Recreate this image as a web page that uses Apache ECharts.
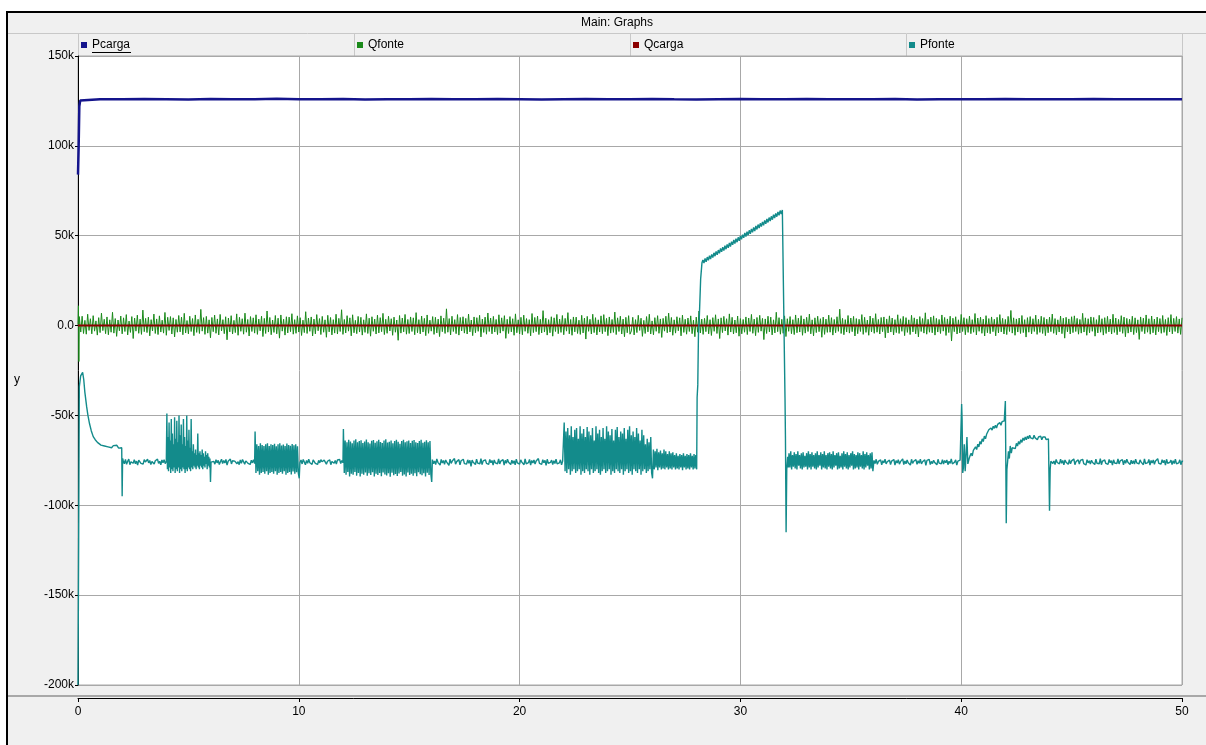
<!DOCTYPE html>
<html><head><meta charset="utf-8">
<script src="https://cdn.jsdelivr.net/npm/echarts@6/dist/echarts.min.js"></script>
<style>html,body{margin:0;padding:0;background:#fff;}#c{width:1206px;height:745px;}</style>
</head><body><div id="c"></div>
<script>
// ---------------- DATA (values in thousands) ----------------
const seriesNames = ['Pcarga', 'Qfonte', 'Qcarga', 'Pfonte'];
const yTickValues = [-200, -150, -100, -50, 0, 50, 100, 150];
const yTickLabels = ['-200k', '-150k', '-100k', '-50k', '0.0', '50k', '100k', '150k'];
const xTickLabels = ['0', '10', '20', '30', '40', '50'];

// Pcarga
const pcargaHead = [[0, 84], [0.03, 100], [0.06, 122], [0.1, 125.2], [0.16, 126.1]];
const pcargaSteady = [126.0,125.9,126.1,126.0,125.8,126.1,125.9,126.0,126.2,125.9,126.0,126.1,125.8,126.0,125.9,126.1,126.0,125.9,126.1,126.0,125.8,126.0,126.1,125.9,126.0,126.1,125.9,125.8,126.0,126.1,126.0,125.9,126.1,126.0,125.9,126.0,126.1,125.8,126.0,126.0,125.9,126.1,126.0,125.9,126.0,126.1,125.9,126.0,125.9,126.0];

// Qfonte
const qfonteHead = [[0, 0.5], [0.02, 11], [0.04, -20], [0.06, 5]];
const qfonteNoise = [
4.1,-3.6,5.2,-4.4,2.9,-4.8,6.3,-2.7,3.8,-4.6,5.5,-3.1,2.6,-5.3,4.4,-3.9,6.9,-2.8,3.5,-4.5,
4.8,-5.1,3.2,-3.7,7.4,-4.2,3.9,-6.0,3.1,-2.9,5.3,-4.6,4.3,-3.3,6.1,-5.2,2.5,-3.8,5.0,-7.2,
4.2,-3.1,5.8,-4.3,3.6,-4.9,8.6,-3.4,4.0,-3.9,4.7,-5.7,3.3,-3.0,6.4,-4.4,3.7,-5.0,5.4,-3.6,
3.0,-4.2,7.3,-5.4,4.6,-2.7,5.0,-4.7,4.3,-6.3,3.4,-3.7,5.6,-3.5,4.7,-5.1,6.8,-4.1,2.8,-4.6,
5.2,-3.3,3.9,-5.6,5.9,-3.8,3.5,-4.4,9.0,-3.1,4.4,-4.9,5.1,-4.2,3.2,-6.8,4.5,-3.4,5.8,-4.3,
3.7,-5.2,6.2,-3.0,3.3,-4.5,4.9,-7.9,4.2,-3.5,5.5,-4.7,2.9,-3.9,6.5,-5.4,4.6,-3.2,3.8,-4.8,
6.9,-3.7,3.4,-5.8,5.0,-3.3,4.3,-4.2,6.0,-4.9,3.6,-2.9,5.2,-6.1,4.0,-4.4,8.1,-3.6,4.5,-5.1,
3.1,-3.8,5.6,-4.6,4.1,-7.0,5.9,-3.1,3.5,-5.3,4.9,-4.1,4.7,-3.4,6.6,-4.8,3.3,-4.3,5.4,-3.6,
4.4,-5.5,3.0,-3.9,7.7,-4.4,4.2,-3.2,4.8,-5.8,3.6,-4.6,6.1,-2.9,3.9,-5.0,5.1,-3.7,3.2,-6.5,
5.7,-3.5,4.5,-5.2,3.3,-4.2,6.3,-4.7,4.0,-3.3,8.8,-4.9,3.4,-4.1,5.5,-3.1,4.3,-5.7,6.0,-4.0,
2.9,-4.5,5.1,-3.6,4.6,-5.3,3.2,-3.8,6.5,-4.4,4.1,-5.9,4.9,-3.2,3.6,-4.7,5.8,-4.1,4.4,-3.4,
6.8,-5.0,3.5,-4.3,5.2,-3.0,3.8,-5.4,4.7,-3.7,3.1,-8.2,5.6,-4.2,4.2,-3.5,6.2,-4.8,3.4,-4.4,
4.8,-3.3,4.3,-5.1,7.2,-4.0,3.3,-4.6,5.3,-3.6,4.0,-5.6,5.9,-4.3,3.0,-3.1,5.0,-4.9,4.6,-4.1,
3.6,-6.1,5.4,-3.4,4.1,-4.4,9.3,-3.7,3.9,-5.2,5.2,-3.3,3.3,-4.5,6.1,-5.3,4.5,-3.0,4.9,-4.2,
4.0,-4.7,6.4,-3.5,3.1,-5.6,4.8,-4.0,4.4,-3.2,5.7,-6.3,3.6,-3.8,4.7,-4.8,7.0,-3.3,4.2,-4.6,
5.1,-3.6,3.4,-5.0,6.0,-4.2,4.3,-3.1,5.5,-7.1,3.5,-4.4,5.0,-3.5,3.8,-5.4,6.5,-4.0,3.2,-4.7,
4.6,-5.1,5.8,-3.2,3.9,-4.3,3.3,-5.7,6.7,-3.9,4.5,-3.4,5.3,-5.0,3.5,-4.1,8.3,-3.6,4.1,-5.3,
3.3,-4.0,4.9,-5.9,4.3,-3.3,6.2,-4.5,3.6,-3.8,5.6,-5.1,4.0,-3.1,7.2,-4.6,3.4,-5.4,4.8,-3.5,
4.7,-4.4,3.0,-4.9,5.7,-4.1,4.2,-7.5,5.1,-3.2,3.5,-4.7,6.3,-3.9,4.4,-5.2,3.2,-3.6,5.4,-4.5,
6.1,-3.4,4.0,-5.6,4.8,-4.2,3.4,-3.8,7.5,-5.0,4.3,-3.3,5.2,-4.7,3.6,-6.2,4.6,-4.0,5.5,-4.8,
-3.0,4.6,-5.2,3.3,-3.9,5.7,-2.7,4.1,-6.0,2.9,-4.4,5.0,-3.5,6.3,-4.7,2.6,-5.1,4.4,-3.2,5.5,
-4.3,3.7,-6.6,4.0,-3.1,5.2,-4.0,6.9,-3.6,4.5,-5.4,3.2,-4.2,4.9,-2.9,4.3,-5.7,5.8,-3.8,3.5,
-4.8,4.2,-3.3,5.4,-4.5,3.0,-6.2,4.7,-3.7,8.1,-4.1,3.6,-4.9,4.0,-3.4,5.6,-4.6,3.3,-5.5,4.4,
-3.2,6.0,-4.4,3.7,-7.2,4.3,-3.9,5.1,-3.0,3.8,-5.3,6.5,-3.6,4.6,-4.7,3.1,-4.0,5.3,-5.9,3.9,
-4.6,3.4,-3.7,4.8,-5.0,4.2,-3.3,6.2,-4.3,3.6,-5.6,4.5,-3.8,5.7,-3.1,4.0,-7.8,3.7,-4.4,5.2,
-3.5,4.7,-5.2,3.2,-4.1,7.4,-3.4,4.4,-4.8,3.5,-4.3,5.4,-6.1,3.8,-3.2,5.0,-4.5,3.3,-5.0,5.9,
-4.0,4.1,-3.6,5.5,-5.4,3.7,-4.2,4.6,-3.3,6.4,-4.6,3.2,-5.7,4.3,-3.9,5.2,-3.4,3.8,-6.5,4.7,
-4.9,3.6,-3.8,5.8,-3.7,4.4,-5.3,3.4,-4.0,4.9,-3.2,9.1,-4.4,4.0,-5.1,3.3,-3.6,5.6,-4.2,4.2,
-3.4,5.1,-5.8,3.9,-4.5,3.5,-3.3,6.1,-4.9,4.6,-3.8,3.1,-5.4,5.3,-3.5,4.1,-4.3,6.6,-3.7,3.4,
-4.7,4.5,-3.4,4.8,-6.8,3.7,-4.1,5.4,-3.6,4.2,-5.2,3.3,-3.9,6.0,-4.4,3.8,-3.2,5.1,-5.6,4.4,
-3.8,3.2,-5.0,5.7,-3.5,4.3,-4.6,3.6,-6.3,5.0,-3.3,3.9,-4.2,7.1,-4.8,3.5,-3.7,4.7,-4.0,5.4,
-5.3,4.0,-3.6,3.4,-4.4,5.9,-3.1,4.5,-5.5,3.7,-3.9,5.2,-8.6,4.1,-3.4,4.9,-4.7,3.2,-4.1,6.2,
-3.3,4.4,-5.1,3.8,-3.8,5.3,-4.5,3.3,-3.7,6.7,-5.2,4.2,-3.2,4.7,-4.3,3.6,-5.8,5.5,-4.0,3.9,
-4.5,4.8,-3.4,3.5,-5.7,4.6,-4.1,6.1,-3.5,4.0,-4.7,3.4,-5.0,5.1,-3.3,8.4,-4.2,4.3,-5.4,3.7,
-3.6,4.2,-4.4,5.6,-3.9,3.3,-6.4,4.4,-3.7,5.0,-4.6,3.8,-3.3,5.8,-4.9,3.5,-3.8,5.2,-4.4,4.5,
-5.6,3.6,-4.0,4.7,-3.4,6.4,-4.3,3.9,-5.1,3.2,-3.6,5.3,-4.5,4.1,-7.0,4.6,-3.5,3.7,-4.7,4.9,
-3.9,5.4,-3.3,4.0,-4.8,3.4,-4.2,6.8,-3.6,4.3,-5.4,3.8,-4.0,4.8,-3.2,4.5,-5.9,3.3,-4.1,5.7,
-3.7,3.8,-5.3,4.4,-4.4,5.1,-3.5,3.6,-4.7,6.3,-3.8,4.2,-5.1,3.4,-3.4,5.5,-4.3,4.7,-6.2,4.0,
-4.2,3.5,-3.6,5.2,-5.0,4.3,-3.9,3.2,-7.7,4.8,-3.3,4.1,-4.5,5.9,-3.7,3.8,-4.8,5.3,-4.0,3.6,
-5.2,4.7,-3.4,3.9,-4.3,5.6,-3.8,3.4,-5.5,4.4,-3.5,6.1,-4.6,4.0,-3.3,5.0,-4.2,3.7,-4.9,4.3];

// Qcarga
const qcargaT = [0, 10, 20, 30, 40, 50];
const qcargaV = [0, 0, 0, 0, 0, 0];

// Pfonte
const pfStart = [[0,-200],[0.03,-120],[0.06,-34],[0.12,-28],[0.21,-26],[0.26,-30],[0.31,-37],[0.39,-45],[0.45,-50],[0.52,-54.5],[0.6,-58.5],[0.69,-61.8],[0.78,-63.5],[0.88,-65],[0.96,-64.5],[1.04,-66.5],[1.12,-65.5],[1.2,-67],[1.28,-66],[1.36,-67.5],[1.44,-66.5],[1.52,-68],[1.6,-66.8],[1.68,-67.8],[1.76,-66.6],[1.84,-68.2],[1.92,-67.3],[1.98,-68],[2.0,-95],[2.02,-74]];
const pfQuiet1 = [-75.2,-76.9,-74.5,-77.2,-75.5,-74.3,-77.4,-75.8,-74.8,-76.6,-74.6,-76.9,-75.4,-77.6,-74.9,-74.4,-76.7,-75.7,-77.1,-74.6,
-75.9,-76.8,-74.4,-76.4,-75.1,-77.3,-75.6,-74.5,-77.0,-75.2,-76.2,-74.3,-76.7,-75.5,-77.5,-74.8,-76.3,-74.6,-76.8,-75.6];
const pfBurst1 = [-49,-80,-62,-81,-54,-79,-64,-82,-52,-80,-60,-81,-66,-79,-51,-82,-63,-80,-53,-81,
-65,-79,-50,-82,-61,-80,-55,-81,-66,-79,-52,-80,-62,-82,-67,-80,-50,-81,-64,-79,
-58,-80,-68,-81,-52,-79,-70,-80,-66,-78,-71,-79,-69,-80,-72,-78,-60,-79,-71,-80,
-70,-78,-72,-79,-69,-80,-71,-78,-73,-79,-70,-77,-72,-80,-71,-78,-73,-79,-74,-87,
-76,-75,-77,-75];
const pfQuiet2 = [-75.6,-77.1,-74.6,-76.4,-75.0,-77.3,-75.8,-74.4,-76.8,-75.1,-76.5,-74.5,-77.6,-75.5,-76.2,-74.3,-77.0,-75.2,-76.3,-75.4,
-74.6,-76.9,-75.7,-77.4,-74.8,-76.6,-74.5,-75.8,-77.2,-75.3,-74.4,-76.7,-75.6,-77.3,-74.9,-76.4,-74.6,-76.8];
const pfBox1 = [-59,-82,-66,-81,-67,-83,-65.5,-82,-66.5,-81.5,-67,-82.5,-66,-81,-65.5,-83,-67,-82,-66,-81.5,
-66.5,-82.5,-65.8,-81,-67.2,-83,-66,-82,-65.5,-81.5,-66.8,-82.5,-66.2,-81,-67,-83,-65.7,-82,-66.4,-81.5,
-66.9,-82.8,-65.9,-81.2,-66.6,-82.4,-66.1,-81.6,-67.1,-82.2,-85];
const pfQuiet3 = [-76.3,-74.8,-77.0,-74.5,-75.9,-77.5,-75.1,-76.6,-74.4,-76.3,-75.6,-77.2,-74.7,-74.5,-76.7,-75.7,-77.3,-75.0,-76.4,-74.6,
-75.8,-76.9,-74.9,-74.4,-77.1,-75.5,-76.5,-74.7,-77.4,-75.6,-74.6,-76.6,-75.1,-77.0,-74.8,-75.9,-74.5,-76.8,-75.0,-76.3];
const pfBox2 = [-57.6,-82,-64,-83,-65,-81.5,-63.5,-84,-64.5,-82.5,-65.5,-83,-64,-81.5,-63.2,-83.5,-65,-82,-64.2,-84,
-63.8,-82.5,-65.3,-83,-64.5,-81.8,-63.4,-83.6,-64.9,-82.2,-65.6,-83.2,-64.1,-81.6,-63.7,-84,-65.2,-82.4,-64.4,-83.1,
-63.6,-82,-64.8,-83.8,-65.4,-81.7,-64,-82.9,-63.3,-83.4,-65.1,-82.1,-64.6,-84.1,-63.9,-81.9,-65.5,-83.3,-64.3,-82.6,
-63.5,-83.7,-64.7,-82.3,-65.8,-81.5,-64.2,-83.5,-63.6,-82.8,-65,-84,-64.4,-81.8,-63.9,-83.2,-65.3,-82.4,-64.1,-83.6,
-63.7,-82.1,-64.9,-83.9,-65.4,-81.6,-64.3,-82.7,-63.5,-83.3,-65.2,-82.2,-64.6,-84,-63.8,-81.9,-65,-83.1,-64.2,-82.5,-87];
const pfQuiet4 = [-74.6,-76.9,-75.3,-77.4,-74.2,-76.1,-75.8,-77.6,-74.5,-76.5,-75.1,-77.2,-74.8,-76.0,-75.6,-77.8,-74.3,-76.7,-75.4,-76.3,
-74.0,-77.1,-75.7,-76.4,-74.6,-77.5,-75.2,-76.2,-74.4,-76.8,-75.9,-77.0,-74.7,-76.6,-75.0,-78.3,-74.9,-76.1,-75.5,-77.3,
-74.3,-76.5,-75.8,-76.9,-74.1,-77.4,-75.3,-76.0,-74.7,-76.7,-75.6,-77.2,-74.5,-76.3,-75.1,-77.6,-74.8,-76.4,-75.7,-76.9,
-74.2,-77.0,-75.4,-76.2,-74.6,-77.7,-75.0,-76.6,-74.4,-76.1,-75.9,-77.3,-74.9,-76.8,-75.2,-77.5,-74.3,-76.4,-75.6,-77.1,
-74.7,-76.0,-75.5,-77.4,-74.2,-76.9,-75.8,-76.3,-74.5,-77.6,-75.1,-76.5,-74.8,-77.0,-75.3,-76.2,-74.0,-76.7,-75.7,-77.2,
-74.6,-76.3,-75.0,-77.8,-74.4,-76.6,-75.6,-76.1,-74.9,-77.3,-75.2,-76.8,-74.3,-77.0,-75.9,-76.4,-74.7,-77.5,-75.4,-75.5];
const pfBurst2 = [-54,-81,-59,-82,-57,-80,-61,-83,-56,-81,-62,-80,-58,-82,-57,-81,-63,-80,-56,-83,
-60,-81,-57.5,-82,-62,-80,-56.5,-81,-59,-83,-61,-80,-57,-82,-64,-81,-56,-80,-60,-82,
-58,-83,-62,-81,-57,-80,-63,-82,-56,-81,-59,-80,-61,-83,-57.5,-81,-64,-82,-58,-80,
-56.5,-81,-62,-82,-59,-80,-60,-83,-57,-81,-63,-80,-58,-82,-56,-81,-61,-83,-59,-80,
-62,-81,-57,-82,-60,-80,-64,-83,-58,-81,-61,-80,-66,-82,-63,-81,-65,-80,-62,-82,-85];
const pfBurst3 = [-69,-80,-70,-79,-68.5,-80.5,-70.5,-79,-69.5,-80,-71,-79.5,-69,-80,-70,-79,-71.5,-80,-70,-79.5,
-71,-80,-70.5,-79,-72,-80,-71,-79.5,-72.5,-80,-71.5,-79,-72,-80.5,-71,-79,-72.5,-80,-71.5,-79.5,
-72,-80,-71,-79,-72.5,-80,-71.5,-79.5,-72,-80];
const pfJump = [[28.04,-40],[28.07,-33],[28.1,-5],[28.14,5],[28.2,26],[28.26,35]];
const pfRamp = [36.5,34.8,37.3,35.5,38.1,36.3,38.9,37.0,39.6,37.8,40.5,38.6,41.2,39.4,42.0,40.2,42.9,41.0,43.6,41.7,
44.4,42.5,45.2,43.3,46.0,44.0,46.7,44.9,47.6,45.6,48.3,46.4,49.1,47.2,49.9,48.0,50.6,48.8,51.5,49.5,
52.3,50.3,53.0,51.1,53.8,51.9,54.6,52.6,55.4,53.5,56.2,54.2,56.9,55.1,57.7,55.8,58.5,56.6,59.3,57.4,
60.1,58.2,60.8,58.9,61.7,59.8,62.4,60.6,63.2,61.3,64.0,62.1,64.3,63.5];
const pfDrop = [[32.02,-40],[32.04,-62],[32.07,-115],[32.1,-80],[32.14,-73],[32.17,-79]];
const pfBand = [-71,-79,-70,-80,-72,-78.5,-70.5,-79.5,-71.5,-80,-70,-78,-72,-79.5,-71,-80,-70.5,-79,-72.5,-78.5,
-71,-80,-70,-79,-71.5,-80,-70.5,-78.5,-72,-79.5,-71,-80,-70,-79,-72,-78,-70.5,-80,-71.5,-79,
-70,-79.5,-72,-80,-71,-78.5,-70.5,-79.5,-71.5,-80,-70,-79,-72,-78,-71,-80,-70.5,-79.5,-72.5,-79,
-71,-80,-70,-78.5,-71.5,-79.5,-70.5,-80,-72,-79,-71,-78,-70,-80,-71.5,-79.5,-72,-79,-70.5,-80,
-71,-78.5,-72,-79.5,-70,-80,-71.5,-79,-70.5,-78,-72,-80,-71,-79.5,-70.5,-81];
const pfQuiet5 = [-75.0,-76.8,-74.4,-77.2,-75.6,-76.1,-74.7,-77.5,-75.2,-76.4,-74.3,-77.0,-75.8,-76.6,-74.9,-77.3,-75.4,-76.0,-74.5,-77.7,
-75.1,-76.5,-74.6,-77.1,-75.7,-76.2,-74.2,-77.4,-75.3,-76.9,-74.8,-76.3,-75.9,-77.6,-74.4,-76.7,-75.5,-76.0,-74.6,-77.2,
-75.2,-76.6,-74.3,-77.0,-75.8,-76.4,-74.7,-77.8,-75.0,-76.1,-74.5,-77.3,-75.6,-76.8,-74.9,-76.2,-75.3,-77.5,-74.4,-76.5,
-75.7,-76.9,-74.6,-77.1,-75.1,-76.3,-74.8,-77.4,-75.5,-76.7,-74.2,-77.0,-75.9,-76.0,-74.7,-77.6,-75.4,-76.4,-74.9,-75.8];
const pfEvents = [[40.02,-43.6],[40.04,-52],[40.07,-82],[40.1,-79],[40.14,-66],[40.18,-81],[40.22,-72],[40.26,-62],[40.3,-77],[40.36,-74],[40.4,-72.5],
[40.45,-71],[40.5,-72.5],[40.55,-69.5],[40.6,-70.5],[40.65,-67.5],[40.7,-69],[40.75,-66],[40.8,-67.5],[40.85,-64.5],[40.9,-66],[40.95,-63],[41.0,-64.5],
[41.05,-61.5],[41.1,-63],[41.15,-60.5],[41.2,-61.5],[41.25,-58],[41.3,-59],[41.35,-57],[41.4,-58.2],[41.45,-56],[41.5,-57.2],[41.55,-55.5],[41.6,-57],
[41.65,-55],[41.7,-56],[41.75,-54],[41.8,-55.5],[41.85,-53.5],[41.9,-54.5],[41.95,-53],
[42.0,-42],[42.02,-75],[42.04,-110],[42.07,-80],[42.1,-76],[42.14,-70],[42.18,-74],[42.22,-67],[42.27,-71],[42.31,-68],
[42.35,-69],[42.4,-67],[42.45,-68.5],[42.5,-65.5],[42.55,-67],[42.6,-64.5],[42.65,-66],[42.7,-63.5],[42.75,-65],[42.8,-62.5],[42.85,-64],[42.9,-62],
[42.95,-63.5],[43.0,-61.5],[43.05,-63],[43.1,-61],[43.15,-62.5],[43.2,-61.5],[43.25,-63],[43.3,-61],[43.35,-62.5],[43.4,-61.5],[43.45,-63.5],[43.5,-62],
[43.55,-63],[43.6,-61.5],[43.65,-63.5],[43.7,-62],[43.75,-63],[43.8,-62],[43.85,-63.5],[43.9,-62.5],[43.95,-63],
[44.0,-103],[44.03,-80],[44.06,-75.5]];
const pfQuiet6 = [-74.9,-76.7,-75.4,-77.3,-74.5,-76.2,-75.8,-77.0,-74.3,-76.6,-75.1,-77.5,-74.8,-76.0,-75.6,-77.2,-74.6,-76.9,-75.3,-76.3,
-74.2,-77.4,-75.7,-76.5,-74.7,-77.1,-75.0,-76.1,-74.4,-76.8,-75.9,-77.6,-74.6,-76.4,-75.2,-77.0,-74.9,-76.2,-75.5,-77.3,
-74.3,-76.6,-75.8,-76.9,-74.1,-77.4,-75.4,-76.0,-74.8,-76.7,-75.6,-77.2,-74.5,-76.3,-75.1,-77.7,-74.7,-76.5,-75.7,-76.8,
-74.2,-77.0,-75.3,-76.2,-74.6,-77.5,-75.0,-76.6,-74.4,-76.1,-75.9,-77.3,-74.9,-76.9,-75.2,-77.1,-74.3,-76.4,-75.6,-77.0,
-74.7,-76.0,-75.5,-77.4,-74.2,-76.8,-75.8,-76.3,-74.5,-77.6,-75.1,-76.5,-74.8,-77.2,-75.3,-76.2,-74.1,-76.7,-75.7,-77.1,
-74.6,-76.3,-75.0,-77.6,-74.4,-76.6,-75.6,-76.1,-74.9,-77.3,-75.2,-76.8,-74.3,-77.0,-75.9,-76.4,-74.7,-77.4,-75.4,-75.6];

// ---------------- BUILD ----------------
function stepped(t0, dt, vals) { return vals.map((v, i) => [+(t0 + i * dt).toFixed(4), v]); }

const pcargaData = pcargaHead.concat(stepped(1, 1, pcargaSteady));
const qfonteData = qfonteHead.concat(stepped(0.0625, 0.0625, qfonteNoise));
const qcargaData = qcargaT.map((t, i) => [t, qcargaV[i]]);
const pfonteData = [].concat(
  pfStart,
  stepped(2.05, 0.05, pfQuiet1),
  stepped(4.025, 0.025, pfBurst1),
  stepped(6.15, 0.05, pfQuiet2),
  stepped(8.02, 0.04, pfBox1),
  stepped(10.05, 0.05, pfQuiet3),
  stepped(12.02, 0.04, pfBox2),
  stepped(16.05, 0.05, pfQuiet4),
  stepped(22.02, 0.04, pfBurst2),
  stepped(26.06, 0.04, pfBurst3),
  pfJump,
  stepped(28.3, 0.05, pfRamp),
  pfDrop,
  stepped(32.2, 0.04, pfBand),
  stepped(36.05, 0.05, pfQuiet5),
  pfEvents,
  stepped(44.1, 0.05, pfQuiet6)
);

const FONT = "'Liberation Sans', Arial, sans-serif";
const colors = ['#14148c', '#1a8a1a', '#8b0000', '#138b8b'];
const legendLefts = [81, 357, 633, 909];

const chart = echarts.init(document.getElementById('c'), null, { renderer: 'canvas' });

const option = {
  animation: false,
  backgroundColor: '#ffffff',
  textStyle: { fontFamily: FONT },
  graphic: [
    { type: 'rect', z: -10, shape: { x: 7, y: 12, width: 1210, height: 740 }, style: { fill: '#f0f0f0', stroke: '#000', lineWidth: 2 } },
    { type: 'line', z: -9, shape: { x1: 8, y1: 33.5, x2: 1206, y2: 33.5 }, style: { stroke: '#c8c8c8', lineWidth: 1 } },
    { type: 'text', z: -9, style: { x: 617, y: 23, text: 'Main: Graphs', font: '12px ' + FONT, fill: '#000', align: 'center', verticalAlign: 'middle' } },
    { type: 'line', z: -9, shape: { x1: 78.5, y1: 34, x2: 78.5, y2: 56 }, style: { stroke: '#c8c8c8', lineWidth: 1 } },
    { type: 'line', z: -9, shape: { x1: 354.5, y1: 34, x2: 354.5, y2: 56 }, style: { stroke: '#c8c8c8', lineWidth: 1 } },
    { type: 'line', z: -9, shape: { x1: 630.5, y1: 34, x2: 630.5, y2: 56 }, style: { stroke: '#c8c8c8', lineWidth: 1 } },
    { type: 'line', z: -9, shape: { x1: 906.5, y1: 34, x2: 906.5, y2: 56 }, style: { stroke: '#c8c8c8', lineWidth: 1 } },
    { type: 'line', z: -9, shape: { x1: 1182.5, y1: 34, x2: 1182.5, y2: 56 }, style: { stroke: '#c8c8c8', lineWidth: 1 } },
    { type: 'line', z: 10, shape: { x1: 92, y1: 52.5, x2: 131, y2: 52.5 }, style: { stroke: '#000', lineWidth: 1 } },
    { type: 'line', z: -9, shape: { x1: 8, y1: 696, x2: 1206, y2: 696 }, style: { stroke: '#a8a8a8', lineWidth: 2 } },
    { type: 'text', z: -9, style: { x: 17, y: 380, text: 'y', font: '12px ' + FONT, fill: '#000', align: 'center', verticalAlign: 'middle' } }
  ],
  legend: seriesNames.map((n, i) => ({
    data: [n], left: legendLefts[i], top: 39, padding: 0, itemWidth: 6, itemHeight: 6, icon: 'rect',
    itemGap: 0, selectedMode: false,
    textStyle: { fontSize: 12, color: '#000', fontFamily: FONT, padding: [0, 0, 0, 0] }
  })),
  grid: [
    { left: 78, top: 56, width: 1104, height: 629, show: true, backgroundColor: '#ffffff', borderColor: '#a8a8a8', borderWidth: 1, containLabel: false },
    { left: 78, top: 697, width: 1104, height: 1, show: false, containLabel: false }
  ],
  xAxis: [
    { type: 'value', gridIndex: 0, min: 0, max: 50, interval: 10,
      axisLine: { show: false }, axisTick: { show: false }, axisLabel: { show: false },
      splitLine: { show: true, lineStyle: { color: '#a8a8a8', width: 1 } } },
    { type: 'value', gridIndex: 1, min: 0, max: 50, interval: 10, position: 'bottom',
      axisLine: { show: true, onZero: false, lineStyle: { color: '#000', width: 1 } },
      axisTick: { show: true, length: 4, lineStyle: { color: '#000' } },
      axisLabel: { show: true, margin: 8, fontSize: 12, color: '#000', fontFamily: FONT,
        formatter: v => xTickLabels[Math.round(v / 10)] },
      splitLine: { show: false } }
  ],
  yAxis: [
    { type: 'value', gridIndex: 0, min: -200, max: 150, interval: 50,
      axisLine: { show: true, onZero: false, lineStyle: { color: '#000', width: 1 } },
      axisTick: { show: true, length: 3, lineStyle: { color: '#000' } },
      axisLabel: { show: true, margin: 4, fontSize: 12, color: '#000', fontFamily: FONT,
        formatter: v => yTickLabels[yTickValues.indexOf(v)] },
      splitLine: { show: true, lineStyle: { color: '#a8a8a8', width: 1 } } },
    { type: 'value', gridIndex: 1, show: false, min: 0, max: 1 }
  ],
  series: [
    { name: 'Pcarga', type: 'line', data: pcargaData, symbol: 'none', showSymbol: false, z: 4,
      lineStyle: { width: 2.5, color: colors[0] }, itemStyle: { color: colors[0] } },
    { name: 'Qfonte', type: 'line', data: qfonteData, symbol: 'none', showSymbol: false, z: 2,
      lineStyle: { width: 1, color: colors[1] }, itemStyle: { color: colors[1] } },
    { name: 'Qcarga', type: 'line', data: qcargaData, symbol: 'none', showSymbol: false, z: 3,
      lineStyle: { width: 2, color: colors[2] }, itemStyle: { color: colors[2] } },
    { name: 'Pfonte', type: 'line', data: pfonteData, symbol: 'none', showSymbol: false, z: 5,
      lineStyle: { width: 1.4, color: colors[3] }, itemStyle: { color: colors[3] } }
  ]
};
chart.setOption(option);
</script>
</body></html>
